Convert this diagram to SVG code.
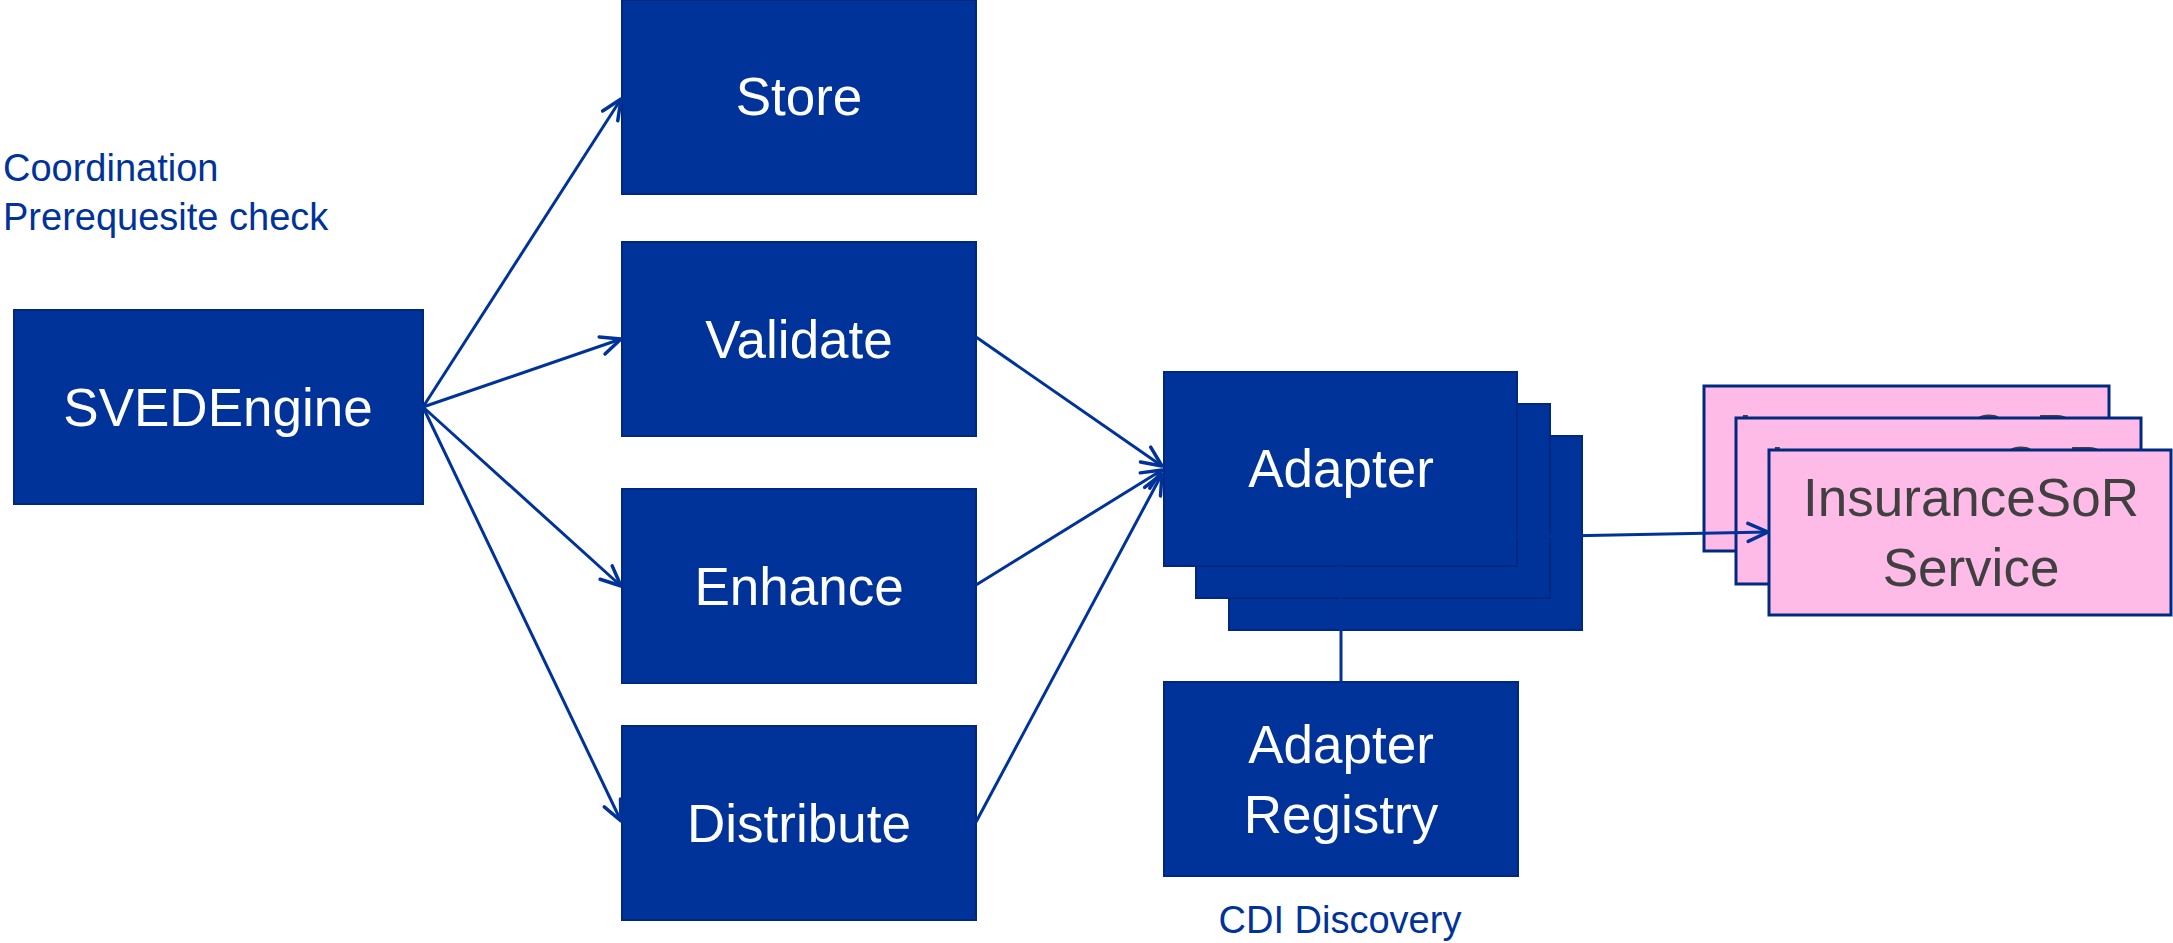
<svg xmlns="http://www.w3.org/2000/svg" width="2173" height="943" viewBox="0 0 2173 943">
  <style>
    .box { fill: #003399; stroke: #00287f; stroke-width: 2; }
    .pink { fill: #ffbbe8; stroke: #002a7f; stroke-width: 3; }
    .lbl { font-family: "Liberation Sans", Arial, sans-serif; font-size: 53px; fill: #ffffff; text-anchor: middle; }
    .plbl { font-family: "Liberation Sans", Arial, sans-serif; font-size: 53px; fill: #404040; text-anchor: middle; }
    .note { font-family: "Liberation Sans", Arial, sans-serif; font-size: 38px; fill: #003399; }
    .conn { fill: none; stroke: #003399; stroke-width: 3; }
  </style>
  <defs>
    <marker id="open-arrow" markerUnits="userSpaceOnUse" viewBox="-24 -14 28 28" refX="0" refY="0" markerWidth="28" markerHeight="28" orient="auto" overflow="visible">
      <path d="M -20 -9 L 0 0 L -20 9" fill="none" stroke="#003399" stroke-width="3.5" stroke-linecap="round" stroke-linejoin="round"/>
    </marker>
  </defs>

  <rect width="2173" height="943" fill="#ffffff"/>

  <!-- free notes -->
  <text class="note" x="3" y="181">Coordination</text>
  <text class="note" x="3" y="230">Prerequesite check</text>
  <text class="note" x="1340" y="933" text-anchor="middle">CDI Discovery</text>

  <g id="svedengine">
    <rect class="box" x="14" y="310" width="409" height="194"/>
    <text class="lbl" x="218" y="426">SVEDEngine</text>
  </g>

  <g id="store">
    <rect class="box" x="622" y="0" width="354" height="194"/>
    <text class="lbl" x="799" y="115">Store</text>
  </g>

  <g id="validate">
    <rect class="box" x="622" y="242" width="354" height="194"/>
    <text class="lbl" x="799" y="358">Validate</text>
  </g>

  <g id="enhance">
    <rect class="box" x="622" y="489" width="354" height="194"/>
    <text class="lbl" x="799" y="605">Enhance</text>
  </g>

  <g id="distribute">
    <rect class="box" x="622" y="726" width="354" height="194"/>
    <text class="lbl" x="799" y="842">Distribute</text>
  </g>

  <!-- stacked adapter instances -->
  <g id="adapter">
    <rect class="box" x="1229" y="436" width="353" height="194"/>
    <rect class="box" x="1196" y="404" width="354" height="194"/>
    <rect class="box" x="1164" y="372" width="353" height="194"/>
    <text class="lbl" x="1341" y="487">Adapter</text>
  </g>

  <g id="adapter-registry">
    <rect class="box" x="1164" y="682" width="354" height="194"/>
    <text class="lbl" x="1341" y="763">Adapter</text>
    <text class="lbl" x="1341" y="833">Registry</text>
  </g>

  <!-- stacked service instances -->
  <g id="insurance-sor-service">
    <rect class="pink" x="1704" y="386" width="405" height="165"/>
    <text class="plbl" x="1906" y="452">InsuranceSoR</text>
    <text class="plbl" x="1906" y="522">Service</text>
    <rect class="pink" x="1736" y="418" width="405" height="166"/>
    <text class="plbl" x="1938" y="484">InsuranceSoR</text>
    <text class="plbl" x="1938" y="554">Service</text>
    <rect class="pink" x="1769" y="450" width="402" height="165"/>
    <text class="plbl" x="1971" y="516">InsuranceSoR</text>
    <text class="plbl" x="1971" y="586">Service</text>
  </g>

  <g id="connectors">
    <line class="conn" x1="423" y1="407" x2="621" y2="99" marker-end="url(#open-arrow)"/>
    <line class="conn" x1="423" y1="407" x2="621" y2="339" marker-end="url(#open-arrow)"/>
    <line class="conn" x1="423" y1="407" x2="621" y2="586" marker-end="url(#open-arrow)"/>
    <line class="conn" x1="423" y1="407" x2="621" y2="821" marker-end="url(#open-arrow)"/>
    <line class="conn" x1="976" y1="337" x2="1162" y2="466" marker-end="url(#open-arrow)"/>
    <line class="conn" x1="976" y1="585" x2="1162" y2="470" marker-end="url(#open-arrow)"/>
    <line class="conn" x1="976" y1="822" x2="1162" y2="474" marker-end="url(#open-arrow)"/>
    <line class="conn" x1="1517" y1="537" x2="1768" y2="532" marker-end="url(#open-arrow)"/>
    <line class="conn" x1="1341" y1="566" x2="1341" y2="682"/>
  </g>
</svg>
